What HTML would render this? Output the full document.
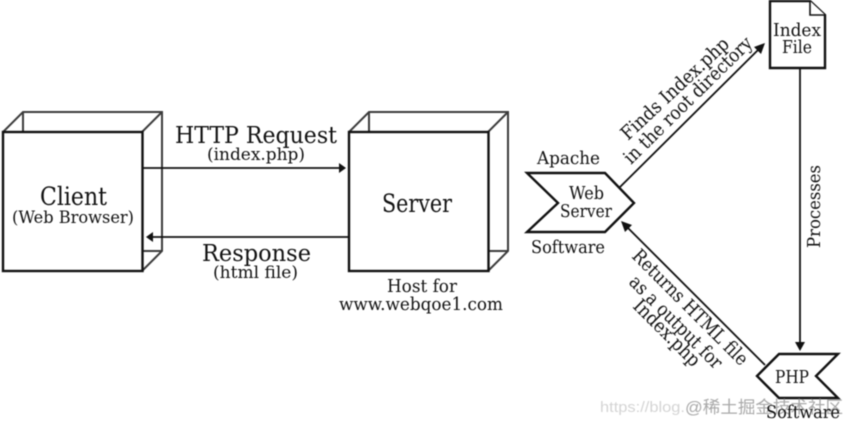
<!DOCTYPE html>
<html><head><meta charset="utf-8">
<style>
html,body{margin:0;padding:0;background:#fff;width:850px;height:425px;overflow:hidden}
svg{display:block;filter:blur(.4px)}
text{font-family:"DejaVu Serif","Liberation Serif",serif;fill:#111}
</style></head>
<body>
<svg width="850" height="425" viewBox="0 0 850 425" xmlns="http://www.w3.org/2000/svg">
<g fill="none" stroke="#3c3c3c" stroke-width="2">
  <path d="M3 132L23 112H162V251L142 271M142 132L162 112M23 112V132M142 251H162"/>
  <path d="M349 132L369 112H508V251L488 271M488 132L508 112M369 112V132M488 251H508"/>
</g>
<g fill="#fff" stroke="#111" stroke-width="2.4">
  <rect x="3" y="132" width="139.5" height="139"/>
  <rect x="349" y="132" width="139.5" height="139"/>
  <path d="M527 173H605L634 203L605 232H527L558 203Z"/>
  <path d="M770 1H810L825 15V68H770Z"/>
  <path d="M810 1V15H825" stroke-width="1.6"/>
  <path d="M757 376L779 354H838L816 376L838 398H779Z"/>
</g>
<g stroke="#111" stroke-width="1.8" fill="none">
  <path d="M142 168H340"/>
  <path d="M349 237H152"/>
  <path d="M620 187L760 48"/>
  <path d="M800 68V343"/>
  <path d="M765 365L626 226"/>
</g>
<g fill="#111">
  <path d="M346 168L339 163V173Z"/>
  <path d="M146 237L153 232V242Z"/>
  <path d="M765 43L754 47L761 54Z"/>
  <path d="M800 351L795 342H805Z"/>
  <path d="M621 221L632 225L625 232Z"/>
</g>
<text x="175" y="143" font-size="23" textLength="162" lengthAdjust="spacingAndGlyphs">HTTP Request</text>
<text x="207" y="160" font-size="17" textLength="98" lengthAdjust="spacingAndGlyphs">(index.php)</text>
<text x="202" y="261" font-size="23" textLength="109" lengthAdjust="spacingAndGlyphs">Response</text>
<text x="213" y="278" font-size="17" textLength="85" lengthAdjust="spacingAndGlyphs">(html file)</text>
<text x="40" y="205" font-size="25" textLength="67" lengthAdjust="spacingAndGlyphs">Client</text>
<text x="12" y="223" font-size="17" textLength="122" lengthAdjust="spacingAndGlyphs">(Web Browser)</text>
<text x="382" y="212" font-size="25" textLength="70" lengthAdjust="spacingAndGlyphs">Server</text>
<text x="387" y="292" font-size="18" textLength="70" lengthAdjust="spacingAndGlyphs">Host for</text>
<text x="339" y="310" font-size="18" textLength="164" lengthAdjust="spacingAndGlyphs">www.webqoe1.com</text>
<text x="537" y="164" font-size="18" textLength="63" lengthAdjust="spacingAndGlyphs">Apache</text>
<text x="569" y="199" font-size="18" textLength="35" lengthAdjust="spacingAndGlyphs">Web</text>
<text x="560" y="217" font-size="18" textLength="52" lengthAdjust="spacingAndGlyphs">Server</text>
<text x="531" y="253" font-size="18" textLength="74" lengthAdjust="spacingAndGlyphs">Software</text>
<text x="773" y="36" font-size="18" textLength="48" lengthAdjust="spacingAndGlyphs">Index</text>
<text x="782" y="53" font-size="18" textLength="30" lengthAdjust="spacingAndGlyphs">File</text>
<text x="775" y="383" font-size="18" textLength="34" lengthAdjust="spacingAndGlyphs">PHP</text>
<text transform="translate(820 248) rotate(-90)" font-size="18" textLength="83" lengthAdjust="spacingAndGlyphs">Processes</text>
<text transform="translate(628 141) rotate(-43)" font-size="19" textLength="140" lengthAdjust="spacingAndGlyphs">Finds Index.php</text>
<text transform="translate(631 165) rotate(-44.5)" font-size="19" textLength="172" lengthAdjust="spacingAndGlyphs">in the root directory</text>
<text transform="translate(631 257) rotate(45)" font-size="19" textLength="155" lengthAdjust="spacingAndGlyphs">Returns HTML file</text>
<text transform="translate(628 283) rotate(45)" font-size="19" textLength="123" lengthAdjust="spacingAndGlyphs">as a output for</text>
<text transform="translate(632 307) rotate(45)" font-size="19" textLength="86" lengthAdjust="spacingAndGlyphs">Index.php</text>
<text x="600" y="412" style="font-family:'Liberation Sans',sans-serif;fill:#d4d4d4" font-size="15" textLength="85" lengthAdjust="spacingAndGlyphs">https://blog.</text>
<text x="685" y="413" style="font-family:'Liberation Sans','Noto Sans CJK SC',sans-serif;fill:#8c8c8c" font-size="17" opacity=".75" textLength="158" lengthAdjust="spacingAndGlyphs">@稀土掘金技术社区</text>
<text x="766" y="418" font-size="18" textLength="74" lengthAdjust="spacingAndGlyphs">Software</text>
</svg>
</body></html>
